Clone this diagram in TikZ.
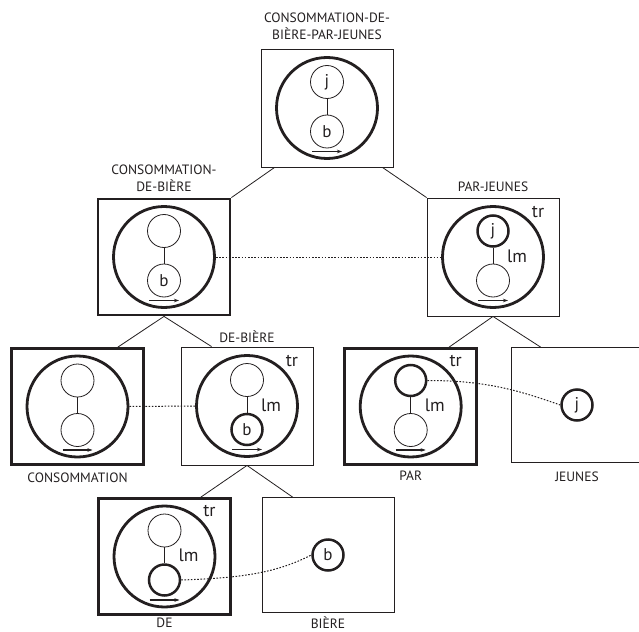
\documentclass[tikz,border=0pt]{standalone}
\usepackage{fontspec}
\setmainfont{PT Sans}
\usetikzlibrary{calc,arrows.meta}
\definecolor{ink}{HTML}{231F20}
\newcommand\slotfig[5]{%
  \node[bigc] (#1c) at (#1.center) {};
  \node[#2] (#1u) at ($(#1.center)+(0,-26)$) {#3};
  \node[#4] (#1l) at ($(#1.center)+(0,23.5)$) {#5};
  \draw[link] (#1u) -- (#1l);
  \coordinate (#1a) at ($(#1.center)+(-15,43.5)$);
  \coordinate (#1b) at ($(#1.center)+(15,43.5)$);
  \draw[arr] (#1a) -- (#1b);}
\begin{document}
\begin{tikzpicture}[x=1pt,y=-1pt, every node/.style={text=ink}, draw=ink,
  thinbox/.style={draw=ink, line width=0.9pt, minimum width=132pt, minimum height=118pt, inner sep=0pt},
  thickbox/.style={draw=ink, line width=2.8pt, minimum width=132pt, minimum height=116pt, inner sep=0pt},
  bigc/.style={circle, draw=ink, line width=2.8pt, minimum size=101pt, inner sep=0pt},
  smallc/.style={circle, draw=ink, line width=0.8pt, minimum size=33pt, inner sep=0pt, font=\fontsize{17}{17}\selectfont},
  smallck/.style={circle, draw=ink, line width=2.5pt, minimum size=31pt, inner sep=0pt, font=\fontsize{17}{17}\selectfont},
  link/.style={draw=ink, line width=0.8pt},
  arr/.style={draw=ink, line width=1.1pt, -{Stealth[length=5pt,width=3.5pt]}},
  dots/.style={draw=ink, line width=1pt, dash pattern=on 1.6pt off 1.6pt},
  title/.style={font=\fontsize{13.5}{17}\selectfont, align=center, inner sep=0pt},
  lab/.style={font=\fontsize{18}{18}\selectfont, inner sep=0pt}]
\clip (0,0) rectangle (639,631);
% boxes
\node[thinbox] (T) at (327,108) {};
\node[thickbox] (C) at (164,257) {};
\node[thinbox] (P) at (493,257) {};
\node[thickbox] (CO) at (77.5,406.5) {};
\node[thinbox] (DB) at (247,406) {};
\node[thickbox] (PA) at (410.7,406.5) {};
\node[thinbox, minimum height=115pt] (JE) at (577,405) {};
\node[thickbox] (DE) at (164.5,556.5) {};
\node[thinbox, minimum height=115pt] (BI) at (328,555) {};
% inner figures
\slotfig{T}{smallc}{j}{smallc}{b}
\slotfig{C}{smallc}{}{smallc}{b}
\slotfig{P}{smallck}{j}{smallc}{}
\slotfig{CO}{smallc}{}{smallc}{}
\slotfig{DB}{smallc}{}{smallck}{b}
\slotfig{PA}{smallck}{}{smallc}{}
\slotfig{DE}{smallc}{}{smallck}{}
\node[smallck] (JEj) at (JE.center) {j};
\node[smallck] (BIb) at (BI.center) {b};
% tr / lm labels
\foreach \n in {P,DB,PA,DE}{
  \node[lab] (\n tr) at ($(\n.center)+(45,-45)$) {tr};
  \node[lab] (\n lm) at ($(\n.center)+(24,-1)$) {lm};
}
% titles
\node[title] (tT) at (327,26.5) {CONSOMMATION-DE-\\BIÈRE-PAR-JEUNES};
\node[title] (tC) at (164,178.7) {CONSOMMATION-\\DE-BIÈRE};
\node[title] (tP) at (493,186.7) {PAR-JEUNES};
\node[title] (tDB) at (247,337) {DE-BIÈRE};
\node[title] (tCO) at (77.5,478) {CONSOMMATION};
\node[title] (tPA) at (410.7,476) {PAR};
\node[title] (tJE) at (577,477) {JEUNES};
\node[title] (tDE) at (164.5,623) {DE};
\node[title] (tBI) at (328,622.5) {BIÈRE};
% tree connectors
\draw[link] ([xshift=14pt]T.south west) -- (C.north east);
\draw[link] ([xshift=-11pt]T.south east) -- (P.north west);
\draw[link] (C.south) -- ([xshift=-27pt]CO.north east);
\draw[link] (C.south) -- ([xshift=31pt]DB.north west);
\draw[link] (P.south) -- ([xshift=-29pt]PA.north east);
\draw[link] (P.south) -- ([xshift=30pt]JE.north west);
\draw[link] (DB.south) -- ([xshift=-31pt]DE.north east);
\draw[link] (DB.south) -- ([xshift=31pt]BI.north west);
% dotted correspondences
\draw[dots] (Cc.east) -- (Pc.west);
\draw[dots] (COc.east) -- (DBc.west);
\draw[dots] (PAu.east) .. controls +(60,0) and +(-40,-14) .. (JEj.west);
\draw[dots] (DEl.east) .. controls +(60,-2) and +(-35,18) .. (BIb.west);
\end{tikzpicture}
\end{document}
